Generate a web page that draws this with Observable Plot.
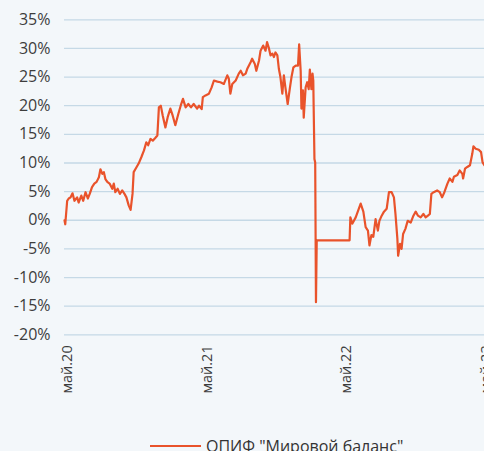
<!DOCTYPE html>
<html>
<head>
<meta charset="utf-8">
<script src="https://cdn.jsdelivr.net/npm/d3@7"></script>
<script src="https://cdn.jsdelivr.net/npm/@observablehq/plot@0.6"></script>
<style>
  html, body { margin: 0; padding: 0; background: #f3f7fa; overflow: hidden; }
  #wrap { position: relative; width: 484px; height: 451px; }
  #legend { position: absolute; left: 150px; top: 436px; height: 20px; display: flex; align-items: center; gap: 5px;
    font-family: "Open Sans", sans-serif; font-size: 16px; color: #333; white-space: nowrap; }
  #legend .sw { width: 51px; height: 2px; background: #e9532b; }
</style>
</head>
<body>
<div id="wrap">
  <div id="chart"></div>
  <div id="legend"><span class="sw"></span><span>ОПИФ "Мировой баланс"</span></div>
</div>
<script>
const seriesName = 'ОПИФ "Мировой баланс"';
const dates = [
  "2020-04-23","2020-04-25","2020-04-30","2020-05-04","2020-05-09","2020-05-14","2020-05-19","2020-05-26","2020-05-30","2020-06-06",
  "2020-06-11","2020-06-17","2020-06-23","2020-06-28","2020-07-04","2020-07-10","2020-07-16","2020-07-22","2020-07-26","2020-07-31",
  "2020-08-04","2020-08-08","2020-08-13","2020-08-19","2020-08-26","2020-08-30","2020-09-03","2020-09-09","2020-09-15","2020-09-21",
  "2020-09-27","2020-10-02","2020-10-08","2020-10-13","2020-10-18","2020-10-21","2020-10-28","2020-11-03","2020-11-10","2020-11-17",
  "2020-11-23","2020-11-28","2020-12-04","2020-12-10","2020-12-17","2020-12-22","2020-12-26","2020-12-31","2021-01-05","2021-01-12",
  "2021-01-18","2021-01-25","2021-01-31","2021-02-07","2021-02-15","2021-02-21","2021-02-27","2021-03-06","2021-03-13","2021-03-20",
  "2021-03-27","2021-04-05","2021-04-10","2021-04-17","2021-04-20","2021-04-27","2021-05-06","2021-05-13","2021-05-19","2021-05-28",
  "2021-06-05","2021-06-14","2021-06-23","2021-06-27","2021-07-01","2021-07-06","2021-07-15","2021-07-23","2021-07-28","2021-08-03",
  "2021-08-10","2021-08-14","2021-08-23","2021-08-27","2021-09-03","2021-09-07","2021-09-14","2021-09-18","2021-09-25","2021-10-01",
  "2021-10-05","2021-10-10","2021-10-14","2021-10-19","2021-10-23","2021-10-27","2021-11-01","2021-11-05","2021-11-09","2021-11-14",
  "2021-11-18","2021-11-22","2021-11-28","2021-12-04","2021-12-08","2021-12-13","2021-12-19","2021-12-25","2021-12-28","2022-01-01",
  "2022-01-03","2022-01-07","2022-01-09","2022-01-14","2022-01-18","2022-01-22","2022-01-25","2022-01-29","2022-02-01","2022-02-03",
  "2022-02-04","2022-02-06","2022-02-08","2022-02-10","2022-02-12","2022-05-09","2022-05-11","2022-05-16","2022-05-25","2022-06-02",
  "2022-06-07","2022-06-14","2022-06-20","2022-06-26","2022-06-30","2022-07-05","2022-07-10","2022-07-16","2022-07-22","2022-07-26",
  "2022-08-01","2022-08-07","2022-08-14","2022-08-20","2022-08-27","2022-09-02","2022-09-06","2022-09-11","2022-09-13","2022-09-18",
  "2022-09-22","2022-09-26","2022-10-02","2022-10-08","2022-10-16","2022-10-23","2022-10-29","2022-11-04","2022-11-11","2022-11-18",
  "2022-11-24","2022-11-30","2022-12-05","2022-12-09","2022-12-15","2022-12-24","2022-12-31","2023-01-06","2023-01-12","2023-01-20",
  "2023-01-26","2023-02-02","2023-02-06","2023-02-15","2023-02-21","2023-02-28","2023-03-02","2023-03-07","2023-03-13","2023-03-20",
  "2023-03-26","2023-03-29","2023-04-04","2023-04-12","2023-04-18","2023-04-22","2023-04-27"
];
const values = [
  0.0, -0.7, 3.4, 3.8, 4.0, 4.7, 3.4, 4.0, 3.1, 4.3,
  3.4, 4.9, 3.8, 4.6, 5.8, 6.4, 6.7, 7.5, 8.9, 8.1,
  8.4, 7.2, 6.7, 6.4, 5.5, 6.4, 4.9, 5.5, 4.6, 5.2,
  4.6, 4.0, 2.6, 1.8, 4.6, 8.4, 9.2, 9.9, 11.0, 12.2,
  13.6, 13.1, 14.2, 13.9, 14.4, 14.8, 19.7, 20.0, 18.3, 16.2,
  18.0, 19.5, 18.3, 16.6, 18.6, 20.0, 21.2, 19.7, 20.3, 19.7,
  20.3, 19.5, 20.0, 19.4, 21.5, 21.8, 22.1, 23.2, 24.4, 24.2,
  24.1, 23.8, 25.3, 24.7, 22.1, 23.8, 24.4, 25.6, 26.1, 25.3,
  25.6, 26.4, 27.6, 28.2, 27.3, 26.1, 27.9, 29.6, 30.5, 29.6,
  31.1, 30.0, 28.8, 29.1, 28.5, 29.3, 28.8, 26.4, 25.0, 22.1,
  25.3, 23.2, 20.3, 23.2, 25.0, 26.7, 27.0, 27.0, 30.7, 26.1,
  19.5, 22.7, 17.9, 23.2, 24.1, 22.9, 26.3, 22.9, 25.6, 24.4,
  19.7, 10.7, 10.1, -14.3, -3.5, -3.5, 0.5, -0.6, 0.5, 2.0,
  2.9, 1.5, -1.2, -1.8, -4.4, -2.6, -2.9, 0.2, -1.8, -0.1,
  0.8, 1.5, 2.0, 4.9, 4.9, 4.0, 1.1, -3.2, -6.2, -4.1,
  -5.0, -2.4, -1.5, -0.1, -0.4, 0.8, 1.5, 0.8, 0.5, 1.1,
  0.5, 0.8, 1.1, 4.6, 4.9, 5.2, 4.9, 4.0, 4.9, 6.4,
  7.3, 6.7, 7.6, 7.9, 8.7, 8.1, 7.3, 9.0, 9.3, 9.6,
  11.6, 12.9, 12.5, 12.3, 11.9, 10.1, 9.6
];
const yTicks = [-20, -15, -10, -5, 0, 5, 10, 15, 20, 25, 30, 35];
const xTickDates = ["2020-05-01", "2021-05-01", "2022-05-01", "2023-05-01"];
const xTickLabels = ["май.20", "май.21", "май.22", "май.23"];
const xDomain = ["2020-04-23", "2023-04-27"];

const data = dates.map((d, i) => ({date: new Date(d), value: values[i]}));
const xTicks = xTickDates.map(d => new Date(d));
const labelOf = new Map(xTicks.map((d, i) => [+d, xTickLabels[i]]));
const lineColor = "#e9532b";

const chart = Plot.plot({
  width: 484,
  height: 425,
  marginLeft: 64,
  marginRight: 0,
  marginTop: 19.3,
  marginBottom: 90.7,
  style: {background: "transparent", fontFamily: "'Open Sans', sans-serif", fontSize: "16px", color: "#3d3d3d", overflow: "visible"},
  x: {type: "utc", domain: xDomain.map(d => new Date(d)), label: null},
  y: {domain: [-20, 35], label: null},
  marks: [
    Plot.gridY(yTicks, {stroke: "#c5d9e6", strokeOpacity: 1, strokeWidth: 1.3}),
    Plot.axisY(yTicks, {tickSize: 0, tickPadding: 14, tickFormat: d => `${d}%`, label: null}),
    Plot.axisX(xTicks, {tickSize: 0, tickPadding: 10.5, tickRotate: -90, fontSize: 14.5, tickFormat: d => labelOf.get(+d), label: null}),
    Plot.line(data, {x: "date", y: "value", stroke: lineColor, strokeWidth: 2.2, strokeLinejoin: "round"})
  ]
});
document.getElementById("chart").appendChild(chart);
</script>
</body>
</html>
